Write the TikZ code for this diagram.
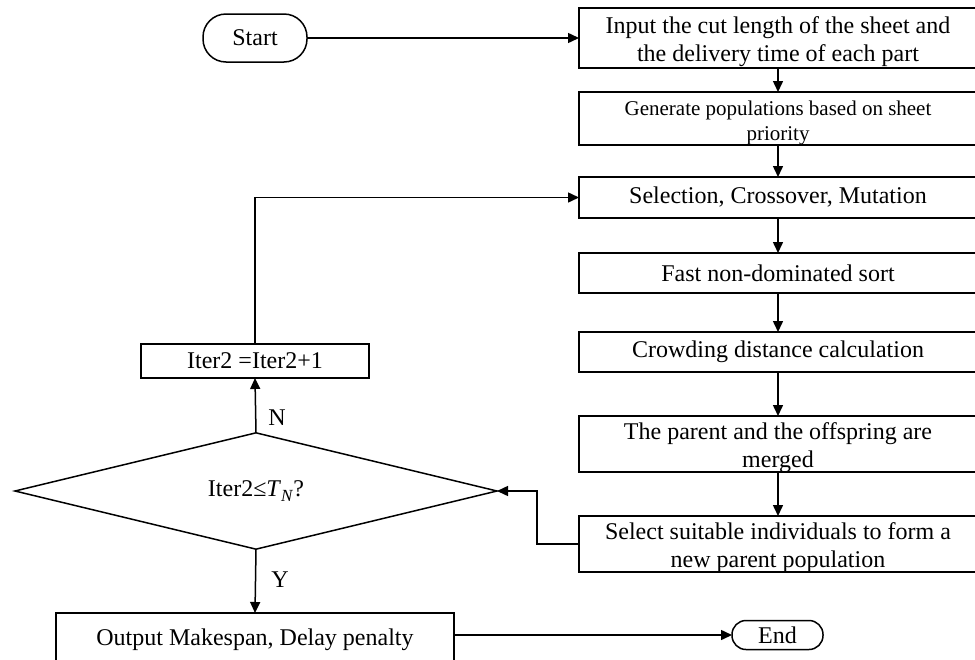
\documentclass[tikz,border=0pt]{standalone}
\usepackage{fontspec}
\setmainfont{Liberation Serif}
\usetikzlibrary{shapes.geometric,arrows.meta}
% two centred lines, set slightly low in their box
\newcommand{\lowpair}[2]{\raisebox{-4pt}[\height][\depth]{\begin{tabular}{@{}c@{}}#1\\#2\end{tabular}}}
\begin{document}
\begin{tikzpicture}[x=1pt,y=-1pt,
  every node/.style={inner sep=0pt, outer sep=0pt},
  flow/.style={line width=1.5pt, -{Triangle[length=11pt,width=10pt]}},
  stepbox/.style={draw, line width=1.5pt, rectangle, align=center,
    font=\fontsize{24}{28}\selectfont},
  term/.style={draw, line width=1.5pt, rectangle, rounded corners=#1,
    font=\fontsize{24}{28}\selectfont},
  decision/.style={draw, line width=1.5pt, diamond, align=center,
    font=\fontsize{24}{28}\selectfont},
  lbl/.style={font=\fontsize{24}{28}\selectfont}]
\useasboundingbox (0,0) rectangle (975,659);

% terminals
\node[term=23pt, minimum width=104pt, minimum height=48pt] (start) at (255,38) {Start};
\node[term=14pt, minimum width=91pt, minimum height=29pt] (end) at (777.5,635) {End};

% main column of process steps
\node[stepbox, minimum width=398pt, minimum height=60pt] (b1) at (778,38)
  {\lowpair{Input the cut length of the sheet and}{the delivery time of each part}};
\node[stepbox, minimum width=398pt, minimum height=53pt,
  font=\fontsize{21}{25}\selectfont] (b2) at (778,118.5)
  {\lowpair{Generate populations based on sheet}{priority}};
\node[stepbox, minimum width=398pt, minimum height=41pt] (b3) at (778,197.5)
  {Selection, Crossover, Mutation};
\node[stepbox, minimum width=398pt, minimum height=40pt] (b4) at (778,273)
  {Fast non-dominated sort};
\node[stepbox, minimum width=398pt, minimum height=40pt] (b5) at (778,352)
  {Crowding distance calculation};
\node[stepbox, minimum width=398pt, minimum height=56pt] (b6) at (778,444)
  {\lowpair{The parent and the offspring are}{merged}};
\node[stepbox, minimum width=398pt, minimum height=56pt] (b7) at (778,544)
  {\lowpair{Select suitable individuals to form a}{new parent population}};

% loop control and output
\node[stepbox, minimum width=228pt, minimum height=34pt] (iter) at (255,361)
  {Iter2 =Iter2+1};
\node[decision, minimum width=482pt, minimum height=93pt] (dec) at (256,491)
  {Iter2≤\textit{T}\raisebox{-0.4ex}{\fontsize{17}{17}\selectfont\textit{N}}?};
\node[stepbox, minimum width=398pt, minimum height=54pt] (out) at (255,640)
  {Output Makespan, Delay penalty};

% branch labels
\node[lbl] (lN) at (277,418) {N};
\node[lbl] (lY) at (280,580) {Y};

% bend points of the loop connectors
\coordinate (c1) at (537,544);
\coordinate (c2) at (537,491);
\coordinate (c3) at (255,197.5);

\draw[flow] (start.east) -- (b1.west |- start.east);
\draw[flow] (b1) -- (b2);
\draw[flow] (b2) -- (b3);
\draw[flow] (b3) -- (b4);
\draw[flow] (b4) -- (b5);
\draw[flow] (b5) -- (b6);
\draw[flow] (b6) -- (b7);
\draw[flow] (b7.west) -- (c1) -- (c2) -- (dec.east);
\draw[flow] (dec.north) -- (iter.south);
\draw[flow] (iter.north) -- (c3) -- (b3.west);
\draw[flow] (dec.south) -- (out.north);
\draw[flow] (out.east |- end.west) -- (end.west);
\end{tikzpicture}
\end{document}
